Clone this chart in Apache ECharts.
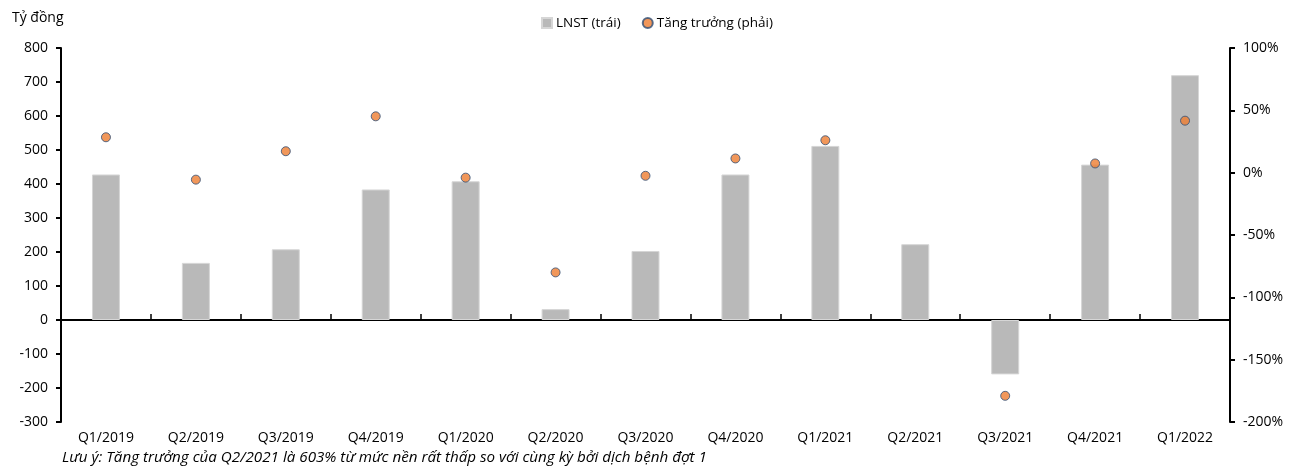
<!DOCTYPE html>
<html><head><meta charset="utf-8">
<script src="https://cdn.jsdelivr.net/npm/echarts@6/dist/echarts.min.js"></script>
<style>html,body{margin:0;padding:0;background:#fff}#c{width:1289px;height:470px}</style>
</head><body><div id="c"></div>
<script>
const categories = ['Q1/2019','Q2/2019','Q3/2019','Q4/2019','Q1/2020','Q2/2020','Q3/2020','Q4/2020','Q1/2021','Q2/2021','Q3/2021','Q4/2021','Q1/2022'];
const profit = [428, 168, 208, 384, 408, 32, 203, 428, 512, 223, -160, 457, 720];
const growth = [28.4, -5.6, 17.2, 45.2, -4, -80, -2.5, 11.4, 26, null, -179, 7.4, 41.7];
const leftTicks = [-300, 800, 100];
const rightTicks = [-200, 100, 50];
const noteText = 'Lưu ý: Tăng trưởng của Q2/2021 là 603% từ mức nền rất thấp so với cùng kỳ bởi dịch bệnh đợt 1';

const font = 'Open Sans';
const chart = echarts.init(document.getElementById('c'));
chart.setOption({
  animation: false,
  textStyle: {fontFamily: font},
  grid: {left: 61, right: 59, top: 48, bottom: 48},
  legend: {
    top: 11, left: 536, itemGap: 21, itemWidth: 10, itemHeight: 10,
    textStyle: {fontSize: 13.5, color: '#000', fontFamily: font, padding: [0, 0, 0, -1]},
    data: [{name: 'LNST (trái)', icon: 'rect'}, {name: 'Tăng trưởng (phải)', icon: 'circle'}]
  },
  graphic: [
    {type: 'text', left: 12, top: 11, style: {text: 'Tỷ đồng', fontSize: 14, fontFamily: font, fill: '#000'}},
    {type: 'text', left: 62, top: 450, style: {text: noteText, fontSize: 15.2, fontStyle: 'italic', fontFamily: font, fill: '#000'}}
  ],
  xAxis: [
    {type: 'category', data: categories, position: 'bottom',
     axisLine: {onZero: true, onZeroAxisIndex: 0, lineStyle: {color: '#000', width: 2}},
     axisTick: {show: true, inside: true, length: 6, alignWithLabel: false, lineStyle: {color: '#000', width: 1.5}},
     axisLabel: {show: false}, splitLine: {show: false}},
    {type: 'category', data: categories, position: 'bottom', gridIndex: 0,
     axisLine: {show: false}, axisTick: {show: false},
     axisLabel: {show: true, color: '#000', fontSize: 14, margin: 9, fontFamily: font}}
  ],
  yAxis: [
    {type: 'value', min: leftTicks[0], max: leftTicks[1], interval: leftTicks[2], position: 'left',
     axisLine: {show: true, onZero: false, lineStyle: {color: '#000', width: 2}},
     axisTick: {show: true, length: 5, lineStyle: {color: '#000', width: 2}},
     axisLabel: {color: '#000', fontSize: 14, margin: 13, fontFamily: font},
     splitLine: {show: false}},
    {type: 'value', min: rightTicks[0], max: rightTicks[1], interval: rightTicks[2], position: 'right',
     axisLine: {show: true, onZero: false, lineStyle: {color: '#000', width: 2}},
     axisTick: {show: true, length: 5, lineStyle: {color: '#000', width: 2}},
     axisLabel: {color: '#000', fontSize: 14, margin: 13, fontFamily: font, formatter: v => v + '%'},
     splitLine: {show: false}}
  ],
  series: [
    {name: 'LNST (trái)', type: 'bar', xAxisIndex: 0, yAxisIndex: 0, data: profit, barWidth: 28,
     itemStyle: {color: '#b9b9b9', borderColor: '#d6d6d6', borderWidth: 1}, z: 2},
    {name: 'Tăng trưởng (phải)', type: 'scatter', xAxisIndex: 0, yAxisIndex: 1, data: growth, symbolSize: 9,
     itemStyle: {color: '#ED7D31', borderColor: '#2F4D74', borderWidth: 1}, z: 3}
  ]
});
</script></body></html>
